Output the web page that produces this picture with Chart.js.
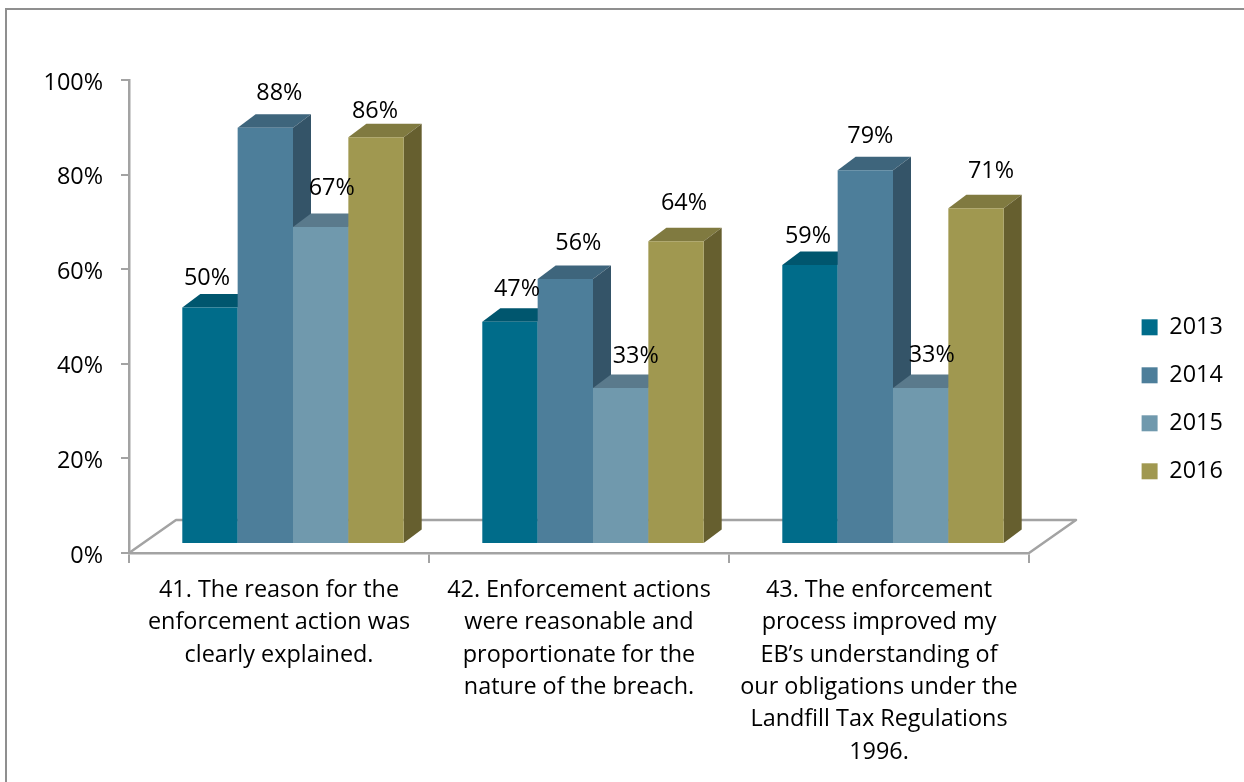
<!DOCTYPE html>
<html>
<head>
<meta charset="utf-8">
<style>
  html, body { margin: 0; padding: 0; background: #fff; overflow: hidden; }
  #frame { position: absolute; left: 5px; top: 8px; width: 1300px; height: 800px; border: 2px solid #8f8f8f; }
  #plot { position: absolute; left: 0; top: 0; width: 1244px; height: 782px; }
  canvas { display: block; }
</style>
<script src="https://cdn.jsdelivr.net/npm/chart.js@4"></script>
</head>
<body>
<div id="frame"></div>
<div id="plot"><canvas id="chart" width="1244" height="782"></canvas></div>
<script>
// Survey results per statement and year, in percent.
const categories = [
  ["41. The reason for the", "enforcement action was", "clearly explained."],
  ["42. Enforcement actions", "were reasonable and", "proportionate for the", "nature of the breach."],
  ["43. The enforcement", "process improved my", "EB\u2019s understanding of", "our obligations under the", "Landfill Tax Regulations", "1996."]
];
const years = ["2013", "2014", "2015", "2016"];
const values2013 = [50, 47, 59];
const values2014 = [88, 56, 79];
const values2015 = [67, 33, 33];
const values2016 = [86, 64, 71];
const yTicks = [0, 20, 40, 60, 80, 100];

const seriesValues = [values2013, values2014, values2015, values2016];
const frontColors = ["#006c8a", "#4d7e9a", "#7099ad", "#a09850"];
const topColors = ["#00566e", "#3e657c", "#5a7a8c", "#807a40"];
const sideColors = ["#004c62", "#345468", "#4e6a7a", "#665f2f"];

// Hand-placed value labels: shift from the top-centre of each front face [dx, dy].
const labelShifts = [
  [[-3, -29], [14, -34], [11, -39], [-1, -26]],
  [[7, -32], [13, -36], [15, -32], [8, -38]],
  [[-2, -29], [5, -34], [11, -33], [15, -37]]
];

const FONT = "'Open Sans', sans-serif";
const FONT_SIZE = 23.4;
const AXIS_GREY = "#a3a3a3";
const BAR_SHIFT = { x: 14, y: -9 };     // bars stand slightly inside the floor
const BAR_DEPTH = { x: 18, y: -13.5 };  // receding edge of each column
const FLOOR_DEPTH = { x: 47, y: -33 };  // receding edge of the floor

// Draws the floor, the columns with their shaded faces, and the value labels.
const columns3d = {
  id: "columns3d",
  beforeDatasetDraw() { return false; },
  beforeDatasetsDraw(chart) {
    const { ctx, scales: { x, y } } = chart;
    const y0 = y.getPixelForValue(0);
    ctx.save();
    ctx.strokeStyle = AXIS_GREY;
    ctx.lineWidth = 2.5;
    ctx.lineJoin = "round";
    ctx.beginPath();
    ctx.moveTo(x.left, y0);
    ctx.lineTo(x.left + FLOOR_DEPTH.x, y0 + FLOOR_DEPTH.y);
    ctx.lineTo(x.right + FLOOR_DEPTH.x, y0 + FLOOR_DEPTH.y);
    ctx.lineTo(x.right, y0);
    ctx.stroke();
    ctx.restore();
  },
  afterDatasetsDraw(chart) {
    const { ctx } = chart;
    ctx.save();
    ctx.translate(BAR_SHIFT.x, BAR_SHIFT.y);
    categories.forEach((_, c) => {
      years.forEach((__, s) => {
        const bar = chart.getDatasetMeta(s).data[c];
        const { x: cx, y: top, base, width } = bar.getProps(["x", "y", "base", "width"], true);
        const l = cx - width / 2, r = cx + width / 2;
        const dx = BAR_DEPTH.x, dy = BAR_DEPTH.y;
        ctx.fillStyle = topColors[s];
        ctx.beginPath();
        ctx.moveTo(l, top);
        ctx.lineTo(l + dx, top + dy);
        ctx.lineTo(r + dx, top + dy);
        ctx.lineTo(r, top);
        ctx.closePath();
        ctx.fill();
        ctx.fillStyle = sideColors[s];
        ctx.beginPath();
        ctx.moveTo(r, top);
        ctx.lineTo(r + dx, top + dy);
        ctx.lineTo(r + dx, base + dy);
        ctx.lineTo(r, base);
        ctx.closePath();
        ctx.fill();
        bar.draw(ctx);
      });
    });
    ctx.fillStyle = "#000";
    ctx.font = FONT_SIZE + "px " + FONT;
    ctx.textAlign = "center";
    ctx.textBaseline = "middle";
    categories.forEach((_, c) => {
      years.forEach((__, s) => {
        const bar = chart.getDatasetMeta(s).data[c];
        const [sx, sy] = labelShifts[c][s];
        ctx.fillText(seriesValues[s][c] + "%", bar.x + sx, bar.y + sy);
      });
    });
    ctx.restore();
  },
  afterLayout(chart) {
    const lg = chart.legend;
    lg.left = 1117; lg.right = 1244; lg.top = 291; lg.bottom = 782;
  }
};

new Chart(document.getElementById("chart"), {
  type: "bar",
  data: {
    labels: categories,
    datasets: years.map((year, s) => ({
      label: year,
      data: seriesValues[s],
      backgroundColor: frontColors[s],
      borderWidth: 0,
      categoryPercentage: 0.738,
      barPercentage: 1
    }))
  },
  options: {
    responsive: false,
    animation: false,
    events: [],
    layout: { padding: { left: 0, top: 80, right: 215, bottom: 0 } },
    scales: {
      x: {
        grid: { display: true, drawOnChartArea: false, drawTicks: true, tickLength: 10, color: AXIS_GREY, lineWidth: 2 },
        border: { display: true, color: AXIS_GREY, width: 2.5 },
        ticks: { color: "#000", font: { family: FONT, size: FONT_SIZE, lineHeight: 1.385 }, padding: 11, maxRotation: 0, autoSkip: false },
        afterFit(scale) { scale.height = 229; }
      },
      y: {
        min: 0,
        max: 100,
        afterBuildTicks(scale) { scale.ticks = yTicks.map(v => ({ value: v })); },
        grid: { display: true, drawOnChartArea: false, drawTicks: true, tickLength: 8, color: AXIS_GREY, lineWidth: 2 },
        border: { display: true, color: AXIS_GREY, width: 2.5 },
        ticks: { color: "#000", font: { family: FONT, size: FONT_SIZE }, padding: 18, labelOffset: 3, callback: v => v + "%" },
        afterFit(scale) { scale.width = 129; }
      }
    },
    plugins: {
      tooltip: { enabled: false },
      title: { display: false },
      legend: {
        position: "chartArea",
        align: "start",
        labels: { boxWidth: 16, boxHeight: 16, padding: 24.6, color: "#000", font: { family: FONT, size: FONT_SIZE } }
      }
    }
  },
  plugins: [columns3d]
});
</script>
</body>
</html>
